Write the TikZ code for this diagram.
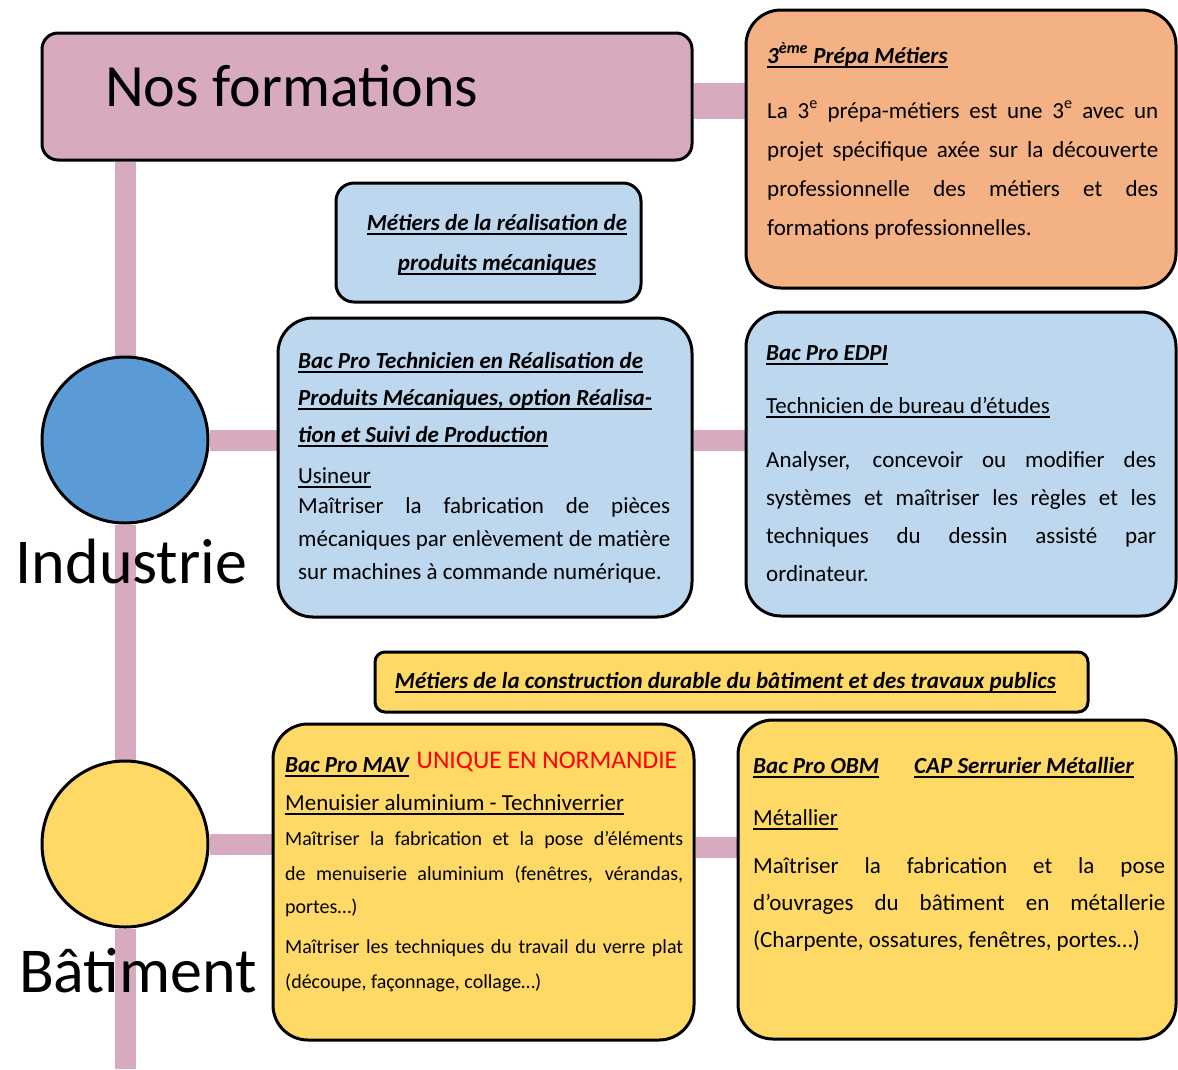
\documentclass[tikz,border=0pt]{standalone}
\usepackage{fontspec}
\setmainfont{Carlito}
\usetikzlibrary{backgrounds}
\definecolor{rosefil}{RGB}{216,170,192}
\definecolor{orangebac}{RGB}{244,177,131}
\definecolor{bleubac}{RGB}{189,215,238}
\definecolor{bleurond}{RGB}{91,155,213}
\definecolor{jaunebac}{RGB}{255,217,102}
\newcommand\sou[1]{\leavevmode\setbox0\hbox{#1}\rlap{\rule[-0.2em]{\wd0}{0.08em}}\box0}
\newcommand\entete[1]{\sou{\bfseries\itshape #1}}
\newcommand\jl[1]{\makebox[\linewidth][s]{#1}}

\begin{document}
\begin{tikzpicture}[x=1pt,y=-1pt,
  boite/.style={draw,line width=3pt,rounded corners=35pt},
  rond/.style={circle,draw,line width=3pt,minimum size=166pt},
  lien/.style={draw=rosefil,line width=21pt},
  texte/.style={inner sep=0pt,anchor=base west,font=\fontsize{23}{38}\selectfont},
  bloc/.style={texte,align=justify},
  grand/.style={inner sep=0pt,anchor=base,font=\fontsize{64}{64}\selectfont}]
\useasboundingbox (0,0) rectangle (1178,1069);

\node[boite,fill=rosefil,rounded corners=16pt,minimum width=650,minimum height=127] (titre) at (367,96.5) {};
\node[boite,fill=orangebac,minimum width=430,minimum height=278] (prepa) at (961,149) {};
\node[boite,fill=bleubac,rounded corners=18pt,minimum width=305,minimum height=119] (realis) at (488.5,242.5) {};
\node[boite,fill=bleubac,minimum width=414,minimum height=299] (tech) at (485,467.5) {};
\node[boite,fill=bleubac,minimum width=430,minimum height=304] (edpi) at (961,464) {};
\node[boite,fill=jaunebac,rounded corners=10pt,minimum width=713,minimum height=60] (constr) at (731.5,682) {};
\node[boite,fill=jaunebac,minimum width=421,minimum height=316] (mav) at (483.5,882) {};
\node[boite,fill=jaunebac,minimum width=438,minimum height=319] (obm) at (957,879.5) {};
\node[rond,fill=bleurond] (indrond) at (125,440) {};
\node[rond,fill=jaunebac] (batrond) at (125,844) {};
\coordinate (bas) at (125,1069);

\begin{pgfonlayer}{background}
\draw[lien,line width=36pt] ([yshift=-4pt]titre.east) -- ([yshift=-4pt]titre.east -| prepa.west);
\draw[lien] (titre.south -| indrond) -- (indrond);
\draw[lien] (indrond) -- (batrond);
\draw[lien] (batrond) -- (bas);
\draw[lien] (indrond) -- (indrond -| tech.west);
\draw[lien] (indrond -| tech.east) -- (indrond -| edpi.west);
\draw[lien] (batrond) -- (batrond -| mav.west);
\draw[lien] ([yshift=-3pt]batrond -| mav.east) -- ([yshift=-3pt]batrond -| obm.west);
\end{pgfonlayer}

\node[texte,font=\fontsize{60}{60}\selectfont] (titretxt) at (105,106) {Nos formations};
\node[grand] (industrie) at (131.5,583) {Industrie};
\node[grand] (batiment) at (138,992) {Bâtiment};

\node[bloc,text width=391,font=\fontsize{23}{39}\selectfont] (prepatxt) at (767,63) {%
\entete{3\textsuperscript{ème} Prépa Métiers}\\[16pt]
\jl{La 3\textsuperscript{e} prépa-métiers est une 3\textsuperscript{e} avec un}\\
\jl{projet spécifique axée sur la découverte}\\
\jl{professionnelle des métiers et des}\\
formations professionnelles.};

\node[bloc,anchor=base,text width=300,font=\fontsize{23}{40}\selectfont] (realistxt) at (497,230) {%
\makebox[\linewidth]{\entete{Métiers de la réalisation de}}\\
\makebox[\linewidth]{\entete{produits mécaniques}}};

\node[bloc,text width=372,font=\fontsize{23}{33}\selectfont] (techtxt) at (298,368) {%
\entete{Bac Pro Technicien en Réalisation de}\\[4pt]
\entete{Produits Mécaniques, option Réalisa-}\\[4pt]
\entete{tion et Suivi de Production}\\[8pt]
\sou{Usineur}\\[-3pt]
\jl{Maîtriser la fabrication de pièces}\\
\jl{mécaniques par enlèvement de matière}\\
sur machines à commande numérique.};

\node[bloc,text width=390] (edpitxt) at (766,360) {%
\entete{Bac Pro EDPI}\\[15pt]
\sou{Technicien de bureau d’études}\\[16pt]
\jl{Analyser, concevoir ou modifier des}\\
\jl{systèmes et maîtriser les règles et les}\\
\jl{techniques du dessin assisté par}\\
ordinateur.};

\node[texte,anchor=base] (constrtxt) at (725.5,688) {%
\entete{Métiers de la construction durable du bâtiment et des travaux publics}};

\node[bloc,text width=398,font=\fontsize{20}{35}\selectfont] (mavtxt) at (285,772) {%
{\fontsize{23}{35}\selectfont\entete{Bac Pro MAV}\hspace{8pt}\raisebox{4pt}{\color{red}\fontsize{25.5}{35}\selectfont UNIQUE EN NORMANDIE}}\\[3pt]
{\fontsize{23}{35}\selectfont\sou{Menuisier aluminium - Techniverrier}}\\
\jl{Maîtriser la fabrication et la pose d’éléments}\\
\jl{de menuiserie aluminium (fenêtres, vérandas,}\\[-2pt]
portes…)\\[5pt]
\jl{Maîtriser les techniques du travail du verre plat}\\
(découpe, façonnage, collage…)};

\node[bloc,text width=412,font=\fontsize{23}{37}\selectfont] (obmtxt) at (753,773) {%
\makebox[161pt][l]{\entete{Bac Pro OBM}}\entete{CAP Serrurier Métallier}\\[15pt]
\sou{Métallier}\\[11pt]
\jl{Maîtriser la fabrication et la pose}\\
\jl{d’ouvrages du bâtiment en métallerie}\\
(Charpente, ossatures, fenêtres, portes…)};
\end{tikzpicture}
\end{document}
